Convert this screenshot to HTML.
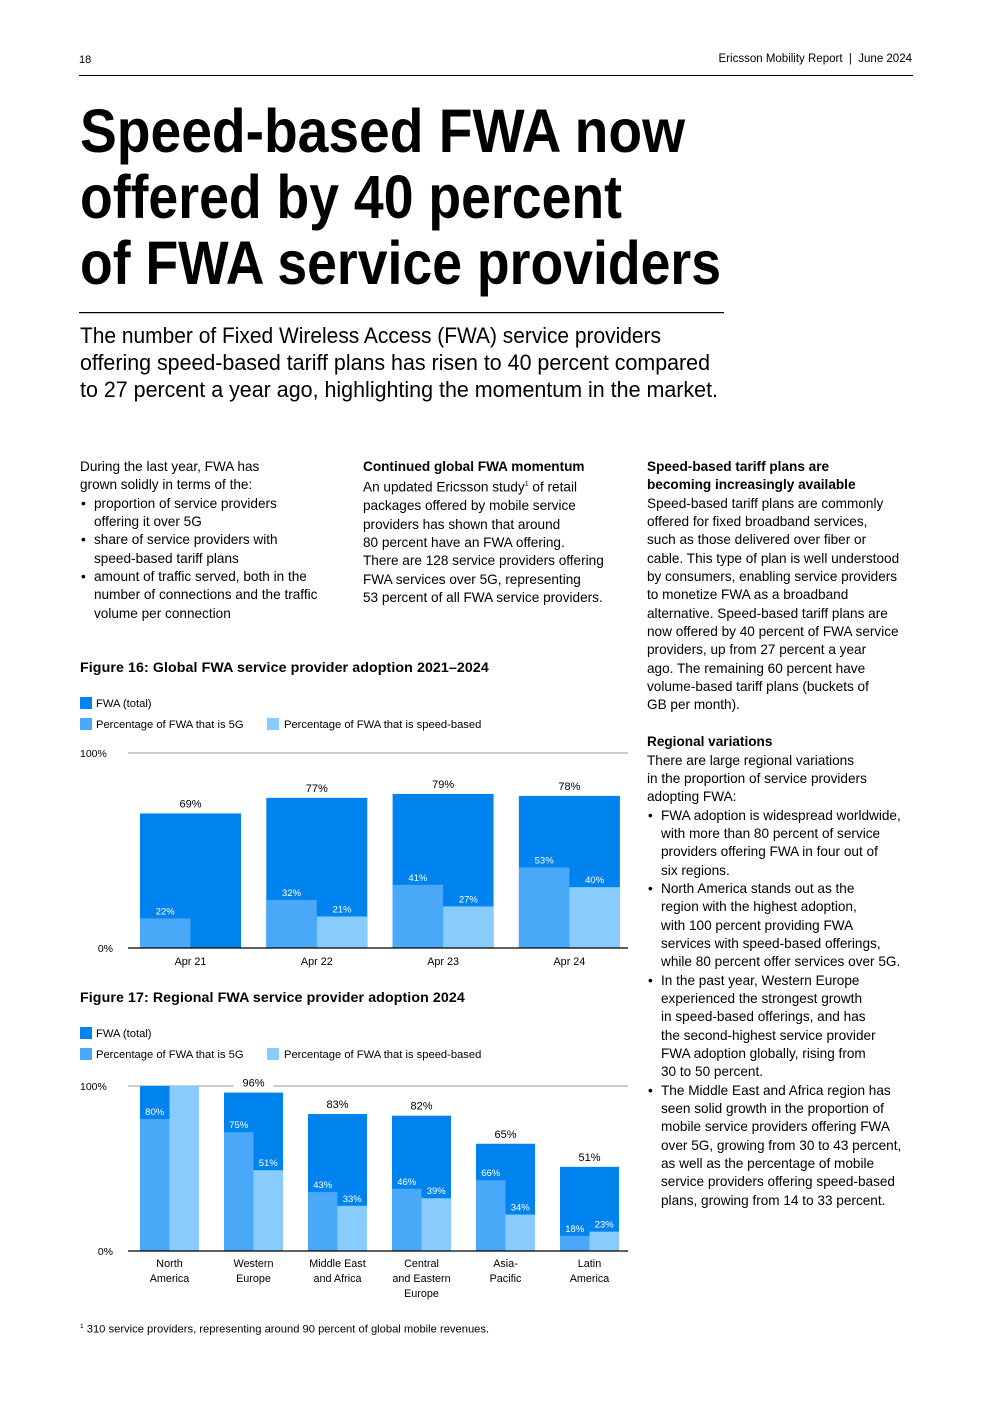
<!DOCTYPE html>
<html><head><meta charset="utf-8">
<style>
*{margin:0;padding:0;box-sizing:border-box}
body{width:992px;height:1403px;background:#fff;position:relative;overflow:hidden;font-family:"Liberation Sans",sans-serif;color:#000}
.abs{position:absolute}
.col{position:absolute;font-size:13.6px;line-height:18.35px;letter-spacing:0px;white-space:nowrap}
.col b{font-weight:bold}
.bl{position:relative;padding-left:14px}
.bl:before{content:"•";position:absolute;left:1px}
.ftitle{position:absolute;left:80px;font-size:14.2px;font-weight:bold;letter-spacing:0.1px}
svg text{font-family:"Liberation Sans",sans-serif}
</style></head><body>
<div class="abs" style="left:79px;top:54px;font-size:11px">18</div>
<div class="abs" style="right:80px;top:53px;font-size:11.5px">Ericsson Mobility Report &nbsp;|&nbsp; June 2024</div>
<div class="abs" style="left:79px;top:75px;width:834px;height:1px;background:#000"></div>

<svg class="abs" style="left:0;top:0" width="992" height="420">
<g font-weight="bold" font-size="61">
<text x="80" y="152" textLength="605" lengthAdjust="spacingAndGlyphs">Speed-based FWA now</text>
<text x="80" y="218" textLength="542" lengthAdjust="spacingAndGlyphs">offered by 40 percent</text>
<text x="80" y="284" textLength="641" lengthAdjust="spacingAndGlyphs">of FWA service providers</text>
</g>
<rect x="79" y="312" width="645" height="1.2" fill="#000"/>
<g font-size="22.5">
<text x="80" y="343" textLength="581" lengthAdjust="spacingAndGlyphs">The number of Fixed Wireless Access (FWA) service providers</text>
<text x="80" y="370" textLength="630" lengthAdjust="spacingAndGlyphs">offering speed-based tariff plans has risen to 40 percent compared</text>
<text x="80" y="397" textLength="638" lengthAdjust="spacingAndGlyphs">to 27 percent a year ago, highlighting the momentum in the market.</text>
</g>
</svg>

<div class="col" style="left:80px;top:458px">
During the last year, FWA has<br>grown solidly in terms of the:
<div class="bl">proportion of service providers<br>offering it over 5G</div>
<div class="bl">share of service providers with<br>speed-based tariff plans</div>
<div class="bl">amount of traffic served, both in the<br>number of connections and the traffic<br>volume per connection</div>
</div>
<div class="col" style="left:363px;top:458px">
<b>Continued global FWA momentum</b><br>An updated Ericsson study<sup style="font-size:7px">1</sup> of retail<br>packages offered by mobile service<br>providers has shown that around<br>80 percent have an FWA offering.<br>There are 128 service providers offering<br>FWA services over 5G, representing<br>53 percent of all FWA service providers.
</div>
<div class="col" style="left:647px;top:458px">
<b>Speed-based tariff plans are<br>becoming increasingly available</b><br>Speed-based tariff plans are commonly<br>offered for fixed broadband services,<br>such as those delivered over fiber or<br>cable. This type of plan is well understood<br>by consumers, enabling service providers<br>to monetize FWA as a broadband<br>alternative. Speed-based tariff plans are<br>now offered by 40 percent of FWA service<br>providers, up from 27 percent a year<br>ago. The remaining 60 percent have<br>volume-based tariff plans (buckets of<br>GB per month).<br><br>
<b>Regional variations</b><br>There are large regional variations<br>in the proportion of service providers<br>adopting FWA:
<div class="bl">FWA adoption is widespread worldwide,<br>with more than 80 percent of service<br>providers offering FWA in four out of<br>six regions.</div>
<div class="bl">North America stands out as the<br>region with the highest adoption,<br>with 100 percent providing FWA<br>services with speed-based offerings,<br>while 80 percent offer services over 5G.</div>
<div class="bl">In the past year, Western Europe<br>experienced the strongest growth<br>in speed-based offerings, and has<br>the second-highest service provider<br>FWA adoption globally, rising from<br>30 to 50 percent.</div>
<div class="bl">The Middle East and Africa region has<br>seen solid growth in the proportion of<br>mobile service providers offering FWA<br>over 5G, growing from 30 to 43 percent,<br>as well as the percentage of mobile<br>service providers offering speed-based<br>plans, growing from 14 to 33 percent.</div>
</div>

<div class="ftitle" style="top:660px">Figure 16: Global FWA service provider adoption 2021–2024</div>
<svg class="abs" id="c1" style="left:0;top:690px" width="640" height="280"></svg>

<div class="ftitle" style="top:990px">Figure 17: Regional FWA service provider adoption 2024</div>
<svg class="abs" id="c2" style="left:0;top:1020px" width="640" height="290"></svg>

<div class="abs" style="left:80px;top:1323px;font-size:11.2px"><sup style="font-size:6.5px">1</sup> 310 service providers, representing around 90 percent of global mobile revenues.</div>

<script>
// Figure 16 data
const cats1 = ["Apr 21","Apr 22","Apr 23","Apr 24"];
const total1 = [69,77,79,78];
const fiveG1 = [22,32,41,53];
const speed1 = [0,21,27,40];
// Figure 17 data
const cats2 = [["North","America"],["Western","Europe"],["Middle East","and Africa"],["Central","and Eastern","Europe"],["Asia-","Pacific"],["Latin","America"]];
const total2 = [100,96,83,82,65,51];
const fiveG2 = [80,75,43,46,66,18];
const speed2 = [100,51,33,39,34,23];
const yTicks = ["0%","100%"];

const C_DARK="#0183ef", C_MID="#4aa8f8", C_LIGHT="#88cbfd";
const NS="http://www.w3.org/2000/svg";
function mk(svg,tag,attrs,txt){const e=document.createElementNS(NS,tag);for(const k in attrs)e.setAttribute(k,attrs[k]);if(txt!==undefined)e.textContent=txt;svg.appendChild(e);return e;}

function legend(svg){
  let r=mk(svg,"rect",{x:80,y:7,width:12,height:12,fill:C_DARK});
  
  
  let t=mk(svg,"text",{x:96,y:17,"font-size":11.2},"FWA (total)");
  
  
  r=mk(svg,"rect",{x:80,y:28,width:12,height:12,fill:C_MID});
  
  
  t=mk(svg,"text",{x:96,y:38,"font-size":11.2},"Percentage of FWA that is 5G");
  
  
  r=mk(svg,"rect",{x:267,y:28,width:12,height:12,fill:C_LIGHT});
  
  
  t=mk(svg,"text",{x:284,y:38,"font-size":11.2},"Percentage of FWA that is speed-based");
  
  
}

function chart(svg,cats,total,fiveG,speed,y0,y100,x0,step,bw,catY){
  const yS=v=>y0-(y0-y100)*v/100;
  legend(svg);
  let g=mk(svg,"line",{x1:128,x2:628,y1:y100,y2:y100,stroke:"#999","stroke-width":1});
  
  
  let tl=mk(svg,"text",{x:80,y:y100+4,"font-size":10.5},yTicks[1]);
  
  
  tl=mk(svg,"text",{x:113,y:y0+4,"font-size":10.5,"text-anchor":"end"},yTicks[0]);
  
  
  cats.forEach((c,i)=>{
    const bx=x0+i*step, half=bw/2;
    const tY=yS(total[i]), fY=yS(fiveG[i]*total[i]/100), sY=yS(speed[i]*total[i]/100);
    let b=mk(svg,"rect",{x:bx,y:tY,width:bw,height:y0-tY,fill:C_DARK});
    
    
    b=mk(svg,"rect",{x:bx,y:fY,width:half,height:y0-fY,fill:C_MID});
    
    
    if(speed[i]>0){
      b=mk(svg,"rect",{x:bx+half,y:sY,width:half,height:y0-sY,fill:C_LIGHT});
      
      
    }
    if(total[i]<100){
      const cx=bx+half;
      const bg=mk(svg,"rect",{x:cx-20,y:tY-20,width:40,height:16,fill:"#fff"});
      
      
      const l=mk(svg,"text",{x:cx,y:tY-6,"font-size":11,"text-anchor":"middle"},total[i]+"%");
      
      
    }
    let l=mk(svg,"text",{x:bx+half/2,y:fY-4,"font-size":9.5,"text-anchor":"middle",fill:"#fff"},fiveG[i]+"%");
    
    
    if(speed[i]>0 && speed[i]<100){
      l=mk(svg,"text",{x:bx+half*1.5,y:sY-4,"font-size":9.5,"text-anchor":"middle",fill:"#fff"},speed[i]+"%");
      
      
    }
    const lines=Array.isArray(c)?c:[c];
    lines.forEach((ln,j)=>{
      const ct=mk(svg,"text",{x:bx+half,y:catY+j*15,"font-size":10.8,"text-anchor":"middle"},ln);
      
      
    });
  });
  const base=mk(svg,"line",{x1:128,x2:628,y1:y0,y2:y0,stroke:"#000","stroke-width":1.2});
  
  
}
chart(document.getElementById('c1'),cats1,total1,fiveG1,speed1,258,63,140,126.3,101,275);
chart(document.getElementById('c2'),cats2,total2,fiveG2,speed2,231,66,140,84,59,247);
</script>
</body></html>
